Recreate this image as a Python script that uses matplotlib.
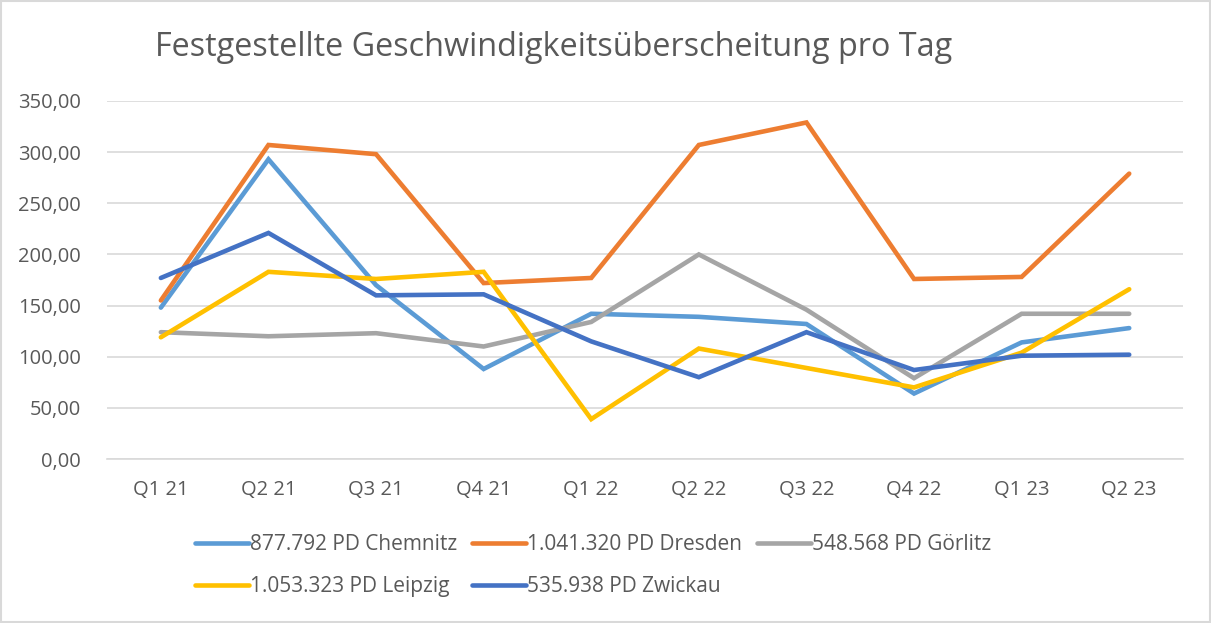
import matplotlib
matplotlib.use("Agg")
import matplotlib.pyplot as plt
from matplotlib.patches import Rectangle
from matplotlib.ticker import FuncFormatter

plt.rcParams['font.family'] = ['Open Sans', 'DejaVu Sans']

quarters = ["Q1 21", "Q2 21", "Q3 21", "Q4 21", "Q1 22",
            "Q2 22", "Q3 22", "Q4 22", "Q1 23", "Q2 23"]

chemnitz = [148, 293, 170, 88, 142, 139, 132, 64, 114, 128]
dresden = [155, 307, 298, 172, 177, 307, 329, 176, 178, 279]
goerlitz = [124, 120, 123, 110, 134, 200, 146, 79, 142, 142]
leipzig = [119, 183, 176, 183, 39, 108, 89, 70, 104, 166]
zwickau = [177, 221, 160, 161, 115, 80, 124, 87, 101, 102]

labels = ["877.792 PD Chemnitz", "1.041.320 PD Dresden", "548.568 PD Görlitz",
          "1.053.323 PD Leipzig", "535.938 PD Zwickau"]
colors = ["#5B9BD5", "#ED7D31", "#A5A5A5", "#FFC000", "#4472C4"]
series = [chemnitz, dresden, goerlitz, leipzig, zwickau]

fig = plt.figure(figsize=(12.11, 6.23), dpi=100)
ax = fig.add_axes([0.0884, 0.2632, 0.8885, 0.5747])

x = list(range(len(quarters)))
handles = []
for vals, lab, col in zip(series, labels, colors):
    h, = ax.plot(x, vals, color=col, lw=3.3, label=lab,
                 solid_capstyle='round', solid_joinstyle='miter')
    handles.append(h)

ax.set_xlim(-0.5, len(quarters) - 0.5)
ax.set_ylim(0, 350)
ax.set_yticks(range(0, 351, 50))
ax.yaxis.set_major_formatter(FuncFormatter(lambda v, p: f"{v:.2f}".replace(".", ",")))
ax.set_xticks(x)
ax.set_xticklabels(quarters)
ax.grid(axis='y', color='#D9D9D9', lw=1.2)
ax.set_axisbelow(True)
for s in ax.spines.values():
    s.set_visible(False)
ax.spines['bottom'].set_visible(True)
ax.spines['bottom'].set_color('#D9D9D9')
ax.spines['bottom'].set_linewidth(1.2)
ax.tick_params(length=0, labelsize=14.5, labelcolor='#595959')
ax.tick_params(axis='x', pad=15)
ax.tick_params(axis='y', pad=19)

fig.text(0.128, 0.924, "Festgestellte Geschwindigkeitsüberscheitung pro Tag",
         fontsize=23.3, color='#595959', va='center', ha='left')

order = [0, 3, 1, 4, 2]
fig.legend([handles[i] for i in order], [labels[i] for i in order],
           ncol=3, loc='center', bbox_to_anchor=(0.49, 0.092),
           frameon=False, fontsize=15, labelcolor='#595959',
           handlelength=2.6, handletextpad=0.05, columnspacing=0.7,
           labelspacing=1.0)

fig.patches.append(Rectangle((0.001, 0.002), 0.998, 0.996, transform=fig.transFigure,
                             fill=False, edgecolor='#D9D9D9', lw=1.5))

fig.savefig("out.png", dpi=100)
